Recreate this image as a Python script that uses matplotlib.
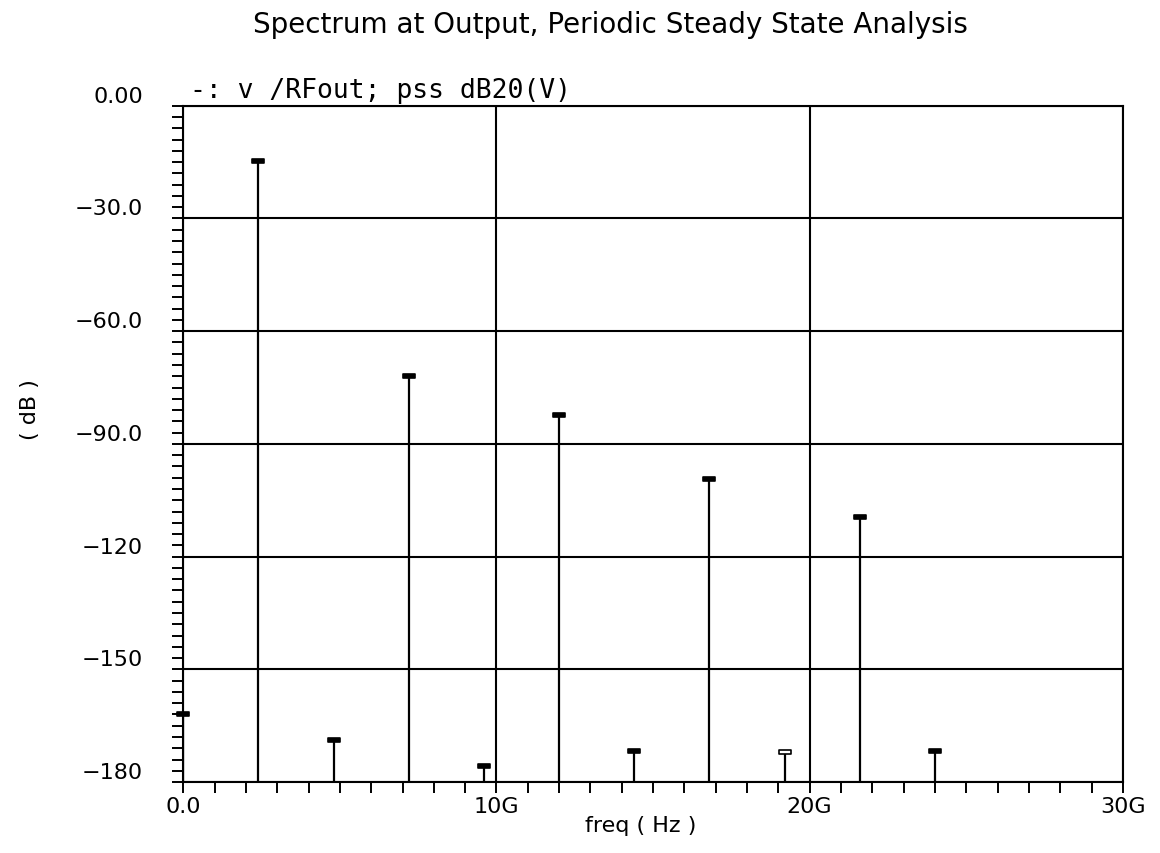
import matplotlib
matplotlib.use("Agg")
import matplotlib.pyplot as plt
from matplotlib.path import Path
from matplotlib.ticker import MultipleLocator

# harmonic frequencies (GHz) and their levels (dB20)
freq_ghz = [0.0, 2.4, 4.8, 7.2, 9.6, 12.0, 14.4, 16.8, 19.2, 21.6, 24.0]
level_db = [-162.0, -14.6, -168.9, -71.9, -175.6, -82.2, -171.6, -99.2, -172.0, -109.5, -171.6]
hollow = [False, False, False, False, False, False, False, False, True, False, False]

y_ticks = [0, -30, -60, -90, -120, -150, -180]
y_labels = ["0.00", "\u221230.0", "\u221260.0", "\u221290.0", "\u2212120", "\u2212150", "\u2212180"]
x_ticks = [0, 10, 20, 30]
x_labels = ["0.0", "10G", "20G", "30G"]

plt.rcParams['font.family'] = ['DejaVu Sans']
fig = plt.figure(figsize=(11.6, 8.54), dpi=100)
ax = fig.add_axes([0.158, 0.083, 0.810, 0.792])

cap = Path([(-1.5, -0.5), (1.5, -0.5), (1.5, 0.5), (-1.5, 0.5), (-1.5, -0.5)],
           [Path.MOVETO, Path.LINETO, Path.LINETO, Path.LINETO, Path.CLOSEPOLY])

ax.vlines(freq_ghz, -180, level_db, color="black", lw=1.6)
for f, v, h in zip(freq_ghz, level_db, hollow):
    ax.plot([f], [v], marker=cap, ms=9, mec="black", mew=1.2,
            mfc="white" if h else "black", clip_on=False, zorder=3)

ax.set_xlim(0, 30)
ax.set_ylim(-180, 0)
ax.set_yticks(y_ticks)
ax.set_yticklabels(y_labels, fontsize=16, va="bottom")
ax.set_xticks(x_ticks)
ax.set_xticklabels(x_labels, fontsize=16)
ax.xaxis.set_minor_locator(MultipleLocator(1))
ax.yaxis.set_minor_locator(MultipleLocator(3))
ax.tick_params(which="both", direction="out", length=8, width=1.4, color="black")
ax.tick_params(axis="y", which="major", pad=21)
ax.tick_params(axis="x", which="major", pad=2)
ax.grid(True, which="major", color="black", lw=1.5)
for s in ax.spines.values():
    s.set_linewidth(1.5)
    s.set_color("black")

ax.set_xlabel("freq ( Hz )", fontsize=16)
ax.xaxis.set_label_coords(0.487, -0.049)
ax.set_ylabel("( dB )", fontsize=16)
ax.yaxis.set_label_coords(-0.152, 0.552)
fig.text(0.526, 0.971, "Spectrum at Output, Periodic Steady State Analysis",
         ha="center", va="center", fontsize=20)
ax.text(0.007, 1.004, "-: v /RFout; pss dB20(V)", transform=ax.transAxes,
        ha="left", va="bottom", fontsize=19, family=["DejaVu Sans Mono"])

fig.savefig("out.png", dpi=100)
